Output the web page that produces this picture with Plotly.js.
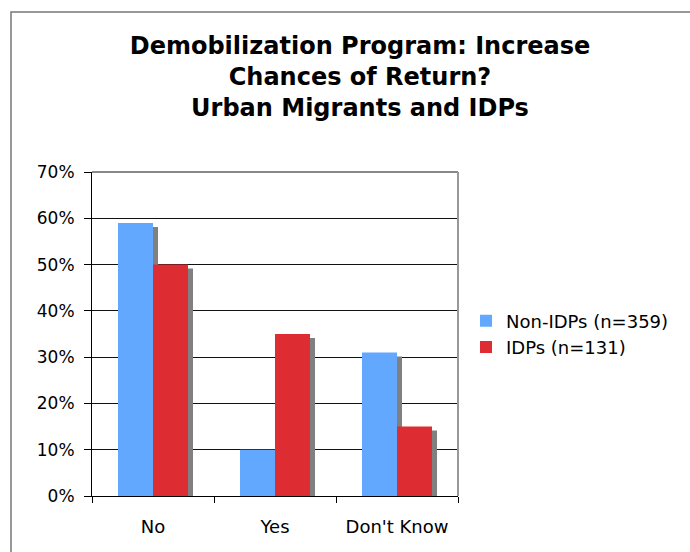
<!DOCTYPE html>
<html>
<head>
<meta charset="utf-8">
<script src="https://cdn.plot.ly/plotly-3.0.1.min.js"></script>
<style>html,body{margin:0;padding:0;background:#fff;}#chart{width:690px;height:552px;}</style>
</head>
<body>
<div id="chart"></div>
<script>
const categories = ["No", "Yes", "Don't Know"];
const nonIDPs = [59, 10, 31];
const idps = [50, 35, 15];
const seriesNames = ["Non-IDPs (n=359)", "IDPs (n=131)"];
const yTickVals = [0, 10, 20, 30, 40, 50, 60, 70];
const yTickText = ["0%", "10%", "20%", "30%", "40%", "50%", "60%", "70%"];

const W = 690, H = 552;
const L = 92, R = 232, T = 172, B = 56;
const pw = W - L - R, ph = H - T - B;
const barW = 0.287;
const shadowDx = 5 / (pw / 3);          // 5px in category units
const shadowDy = 4 / (ph / 70);          // 4px in value units
const font = "DejaVu Sans, Verdana, sans-serif";

function shadow(vals, off) {
  return {
    type: 'bar', x: categories, y: vals.map(v => v - shadowDy),
    offset: off + shadowDx, width: barW,
    marker: {color: '#808080', line: {width: 0}},
    showlegend: false, hoverinfo: 'skip'
  };
}

const data = [
  shadow(nonIDPs, -barW),
  shadow(idps, 0),
  {type: 'bar', name: seriesNames[0], x: categories, y: nonIDPs, offset: -barW, width: barW,
   marker: {color: '#63A8FF', line: {width: 0}}},
  {type: 'bar', name: seriesNames[1], x: categories, y: idps, offset: 0, width: barW,
   marker: {color: '#DE2C33', line: {width: 0}}}
];

const layout = {
  width: W, height: H,
  margin: {l: L, r: R, t: T, b: B, pad: 0},
  paper_bgcolor: '#fff', plot_bgcolor: '#fff',
  barmode: 'overlay',
  font: {family: font, size: 17, color: '#000'},
  title: {
    text: 'Demobilization Program: Increase<br>Chances of Return?<br>Urban Migrants and IDPs',
    font: {family: font, size: 24, color: '#000', weight: 'bold'},
    x: 360 / W, xanchor: 'center', y: 1 - 54 / H, yanchor: 'top'
  },
  xaxis: {
    type: 'category', range: [-0.5, 2.5], fixedrange: true,
    showline: true, linecolor: '#000', linewidth: 1,
    ticks: 'outside', tickson: 'boundaries', ticklen: 6, tickcolor: '#000',
    ticklabelstandoff: 14,
    showgrid: false, zeroline: false,
    tickfont: {family: font, size: 18, color: '#000'}
  },
  yaxis: {
    range: [0, 70], fixedrange: true,
    tickvals: yTickVals, ticktext: yTickText,
    showline: true, linecolor: '#000', linewidth: 1,
    ticks: 'outside', ticklen: 7, tickcolor: '#000',
    ticklabelstandoff: 6,
    showgrid: true, gridcolor: '#111', gridwidth: 1, zeroline: false,
    tickfont: {family: font, size: 17, color: '#000'}
  },
  legend: {
    x: (466 - L) / pw, xanchor: 'left', y: 0.5, yanchor: 'middle',
    font: {family: font, size: 18, color: '#000'},
    bgcolor: 'rgba(0,0,0,0)', tracegroupgap: 2
  },
  shapes: [
    {type: 'rect', xref: 'paper', yref: 'paper',
     x0: (11 - L) / pw, x1: (W + 10 - L) / pw,
     y0: -(B + 10) / ph, y1: (H - B - 12) / ph,
     line: {color: '#777', width: 1.5}, fillcolor: 'rgba(0,0,0,0)', layer: 'below'},
    {type: 'line', xref: 'paper', yref: 'paper', x0: 0, x1: 1, y0: 1, y1: 1,
     line: {color: '#888', width: 2}},
    {type: 'line', xref: 'paper', yref: 'paper', x0: 1, x1: 1, y0: 0, y1: 1,
     line: {color: '#999', width: 2}}
  ],
  hovermode: false
};

Plotly.newPlot('chart', data, layout, {displayModeBar: false, staticPlot: true});
</script>
</body>
</html>
